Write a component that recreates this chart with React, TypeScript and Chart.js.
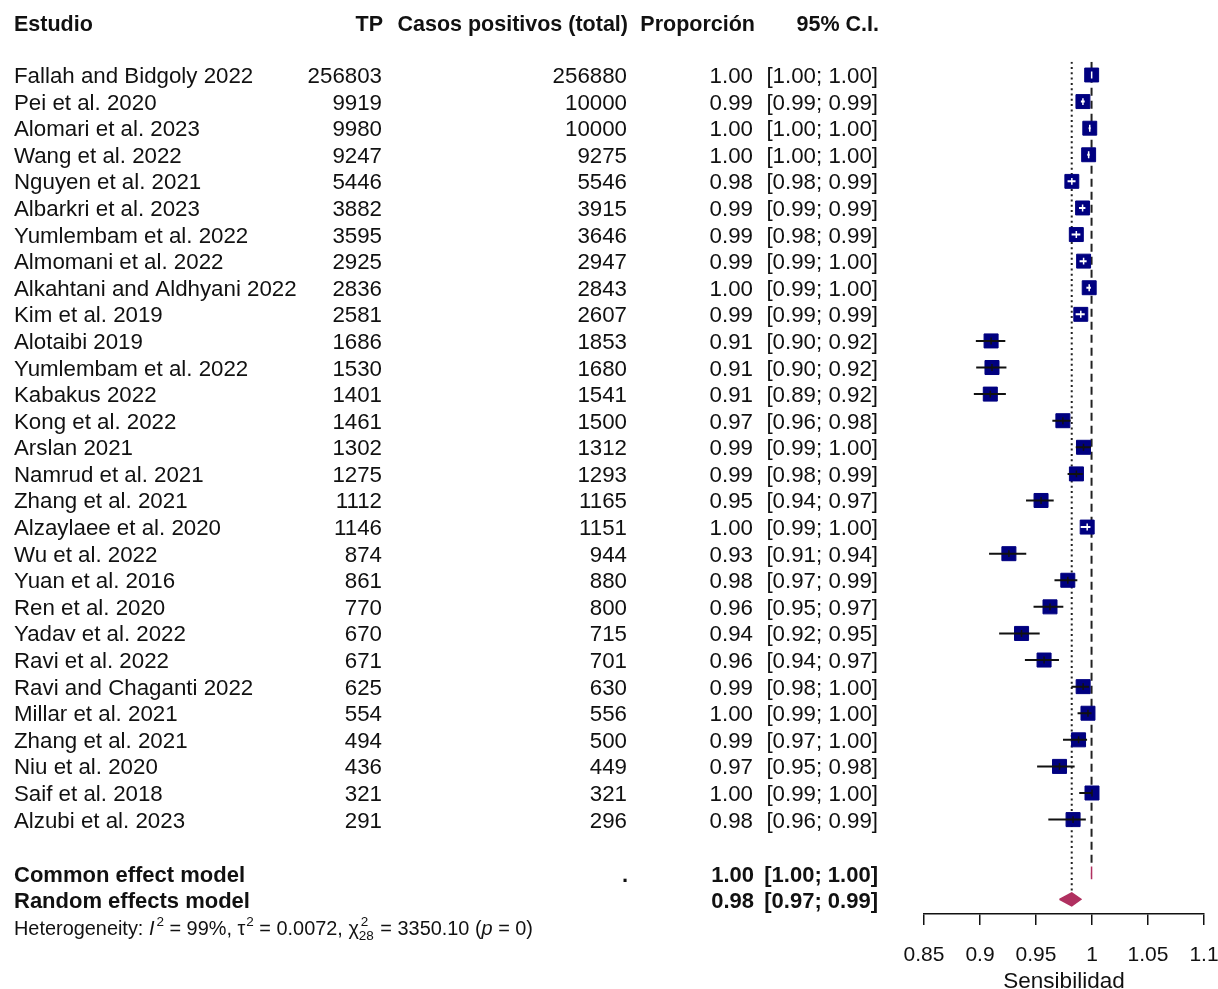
import React, { useEffect, useRef } from "react";
import { Chart, registerables } from "chart.js";

Chart.register(...registerables);

const FONT = "'Liberation Sans', Arial, Helvetica, sans-serif";

const headers = ["Estudio", "TP", "Casos positivos (total)", "Proporción", "95% C.I."];

const studies = [
  "Fallah and Bidgoly 2022", "Pei et al. 2020", "Alomari et al. 2023", "Wang et al. 2022",
  "Nguyen et al. 2021", "Albarkri et al. 2023", "Yumlembam et al. 2022", "Almomani et al. 2022",
  "Alkahtani and Aldhyani 2022", "Kim et al. 2019", "Alotaibi 2019", "Yumlembam et al. 2022",
  "Kabakus 2022", "Kong et al. 2022", "Arslan 2021", "Namrud et al. 2021", "Zhang et al. 2021",
  "Alzaylaee et al. 2020", "Wu et al. 2022", "Yuan et al. 2016", "Ren et al. 2020",
  "Yadav et al. 2022", "Ravi et al. 2022", "Ravi and Chaganti 2022", "Millar et al. 2021",
  "Zhang et al. 2021", "Niu et al. 2020", "Saif et al. 2018", "Alzubi et al. 2023",
];

const tp = [256803, 9919, 9980, 9247, 5446, 3882, 3595, 2925, 2836, 2581, 1686, 1530, 1401, 1461, 1302, 1275, 1112, 1146, 874, 861, 770, 670, 671, 625, 554, 494, 436, 321, 291];
const totals = [256880, 10000, 10000, 9275, 5546, 3915, 3646, 2947, 2843, 2607, 1853, 1680, 1541, 1500, 1312, 1293, 1165, 1151, 944, 880, 800, 715, 701, 630, 556, 500, 449, 321, 296];

const propLabels = ["1.00", "0.99", "1.00", "1.00", "0.98", "0.99", "0.99", "0.99", "1.00", "0.99", "0.91", "0.91", "0.91", "0.97", "0.99", "0.99", "0.95", "1.00", "0.93", "0.98", "0.96", "0.94", "0.96", "0.99", "1.00", "0.99", "0.97", "1.00", "0.98"];
const ciLabels = ["[1.00; 1.00]", "[0.99; 0.99]", "[1.00; 1.00]", "[1.00; 1.00]", "[0.98; 0.99]", "[0.99; 0.99]", "[0.98; 0.99]", "[0.99; 1.00]", "[0.99; 1.00]", "[0.99; 0.99]", "[0.90; 0.92]", "[0.90; 0.92]", "[0.89; 0.92]", "[0.96; 0.98]", "[0.99; 1.00]", "[0.98; 0.99]", "[0.94; 0.97]", "[0.99; 1.00]", "[0.91; 0.94]", "[0.97; 0.99]", "[0.95; 0.97]", "[0.92; 0.95]", "[0.94; 0.97]", "[0.98; 1.00]", "[0.99; 1.00]", "[0.97; 1.00]", "[0.95; 0.98]", "[0.99; 1.00]", "[0.96; 0.99]"];

const proportions = [0.9997, 0.9919, 0.998, 0.997, 0.982, 0.9916, 0.986, 0.9925, 0.9975, 0.99, 0.9099, 0.9107, 0.9092, 0.974, 0.9924, 0.9861, 0.9545, 0.9957, 0.9258, 0.9784, 0.9625, 0.9371, 0.9572, 0.9921, 0.9964, 0.988, 0.971, 1.0, 0.9831];
const ciLower = [0.9996, 0.9901, 0.997, 0.9958, 0.9782, 0.9884, 0.9818, 0.9889, 0.995, 0.9854, 0.8963, 0.8966, 0.8945, 0.9646, 0.9855, 0.9782, 0.9411, 0.9899, 0.9081, 0.9665, 0.9478, 0.9171, 0.9401, 0.9816, 0.9871, 0.9741, 0.951, 0.9886, 0.961];
const ciUpper = [0.9998, 0.9935, 0.9987, 0.9979, 0.9853, 0.9941, 0.9896, 0.9952, 0.999, 0.9935, 0.9226, 0.9236, 0.9231, 0.9809, 0.9992, 0.9917, 0.9658, 0.9986, 0.9413, 0.9869, 0.9744, 0.9533, 0.9705, 0.9974, 0.9996, 0.9956, 0.9845, 1.0, 0.9945];
const weights = [3.4, 3.42, 3.4, 3.41, 3.41, 3.42, 3.43, 3.42, 3.43, 3.42, 3.46, 3.46, 3.46, 3.45, 3.45, 3.46, 3.45, 3.44, 3.46, 3.45, 3.45, 3.47, 3.46, 3.45, 3.44, 3.45, 3.46, 3.44, 3.46];

const commonEffect = { est: 0.9996, lo: 0.9995, hi: 0.9997, label: "1.00", ci: "[1.00; 1.00]", name: "Common effect model" };
const randomEffects = { est: 0.9819, lo: 0.971, hi: 0.9901, label: "0.98", ci: "[0.97; 0.99]", name: "Random effects model" };

const tickValues = [0.85, 0.9, 0.95, 1, 1.05, 1.1];
const tickLabels = ["0.85", "0.9", "0.95", "1", "1.05", "1.1"];
const axisTitle = "Sensibilidad";

const COMMON_ROW = 30;
const RANDOM_ROW = 31;

const BOX = "#000080";
const DIAMOND = "#B03060";
const INK = "#111111";

export default function App() {
  const ref = useRef<HTMLCanvasElement>(null);

  useEffect(() => {
    const canvas = ref.current as HTMLCanvasElement;
    const boxSide = (i: number) => 15 * Math.sqrt(weights[i] / 3.45);
    const getChart = (ctx: any) => (ctx && ctx.chart) || Chart.getChart(canvas);
    const inside = (chart: any, i: number) => {
      const xs = chart.scales.x;
      const cx = xs.getPixelForValue(proportions[i]);
      const h = boxSide(i) / 2;
      return xs.getPixelForValue(ciLower[i]) >= cx - h && xs.getPixelForValue(ciUpper[i]) <= cx + h;
    };
    const rowColor = (ctx: any) => {
      const chart = getChart(ctx);
      if (!chart || !chart.scales || !chart.scales.x) return INK;
      return inside(chart, Math.floor(ctx.p0DataIndex / 3)) ? "#ffffff" : INK;
    };

    const ciData: any[] = [];
    const tickData: any[] = [];
    studies.forEach((_, i) => {
      ciData.push({ x: ciLower[i], y: i }, { x: ciUpper[i], y: i }, { x: NaN, y: NaN });
      tickData.push({ x: proportions[i], y: i - 0.13 }, { x: proportions[i], y: i + 0.13 }, { x: NaN, y: NaN });
    });
    const boxData = proportions.map((p, i) => ({ x: p, y: i }));
    const dh = 0.24;
    const diamond = (s: any, row: number) => [
      { x: s.lo, y: row }, { x: s.est, y: row - dh }, { x: s.hi, y: row }, { x: s.est, y: row + dh }, { x: s.lo, y: row },
    ];

    const textPlugin = {
      id: "forestText",
      afterDraw(chart: any) {
        const c = chart.ctx;
        const ys = chart.scales.y;
        c.save();
        c.fillStyle = INK;
        c.textBaseline = "alphabetic";
        // headers
        c.font = `bold 21.5px ${FONT}`;
        c.textAlign = "left";
        c.fillText(headers[0], 14, 31);
        c.textAlign = "right";
        c.fillText(headers[1], 383, 31);
        c.fillText(headers[2], 628, 31);
        c.fillText(headers[3], 755, 31);
        c.fillText(headers[4], 879, 31);
        // rows
        c.font = `22.3px ${FONT}`;
        studies.forEach((s, i) => {
          const y = ys.getPixelForValue(i) + 8;
          c.textAlign = "left";
          c.fillText(s, 14, y);
          c.textAlign = "right";
          c.fillText(String(tp[i]), 382, y);
          c.fillText(String(totals[i]), 627, y);
          c.fillText(propLabels[i], 753, y);
          c.fillText(ciLabels[i], 878, y);
        });
        // summaries
        c.font = `bold 22px ${FONT}`;
        [[commonEffect, COMMON_ROW, "."], [randomEffects, RANDOM_ROW, ""]].forEach(([s, row, dot]: any) => {
          const y = ys.getPixelForValue(row) + 9;
          c.textAlign = "left";
          c.fillText(s.name, 14, y);
          c.textAlign = "right";
          if (dot) c.fillText(dot, 628, y);
          c.fillText(s.label, 754, y);
          c.fillText(s.ci, 878, y);
        });
        // heterogeneity
        const reg = `19.9px ${FONT}`;
        const ital = `italic 19.9px ${FONT}`;
        const small = `13.5px ${FONT}`;
        const yb = 935;
        let x = 14;
        c.textAlign = "left";
        const put = (t: string, f: string, dy = 0) => {
          c.font = f;
          c.fillText(t, x, yb + dy);
          x += c.measureText(t).width;
        };
        put("Heterogeneity: ", reg);
        put("I", ital);
        x += 2;
        put("2", small, -9);
        put(" = 99%, ", reg);
        put("τ", reg);
        x += 1;
        put("2", small, -9);
        put(" = 0.0072, ", reg);
        put("χ", reg);
        c.font = small;
        const sx = x;
        c.fillText("2", sx + 2, yb - 9);
        c.fillText("28", sx, yb + 5);
        x = sx + c.measureText("28").width + 1;
        put(" = 3350.10 (", reg);
        put("p", ital);
        put(" = 0)", reg);
        c.restore();
      },
    };

    const chart = new Chart(canvas, {
      type: "scatter",
      data: {
        datasets: [
          {
            label: "common line",
            data: [{ x: commonEffect.est, y: -0.5 }, { x: commonEffect.est, y: COMMON_ROW - dh }],
            showLine: true, pointRadius: 0, borderColor: "#222", borderWidth: 2, borderDash: [8, 5], order: 10,
          } as any,
          {
            label: "random line",
            data: [{ x: randomEffects.est, y: -0.5 }, { x: randomEffects.est, y: RANDOM_ROW - dh }],
            showLine: true, pointRadius: 0, borderColor: "#222", borderWidth: 2, borderDash: [2, 3.3], order: 9,
          },
          {
            label: "boxes",
            data: boxData,
            pointStyle: "rect",
            pointRadius: weights.map((_, i) => (boxSide(i) - 1) / Math.SQRT2),
            pointBackgroundColor: BOX,
            pointBorderColor: BOX,
            pointBorderWidth: 1,
            order: 5,
          },
          {
            label: "ci",
            data: ciData,
            showLine: true, pointRadius: 0, borderColor: INK, borderWidth: 2, spanGaps: false,
            segment: { borderColor: rowColor },
            order: 3,
          },
          {
            label: "est",
            data: tickData,
            showLine: true, pointRadius: 0, borderColor: INK, borderWidth: 1.5, spanGaps: false,
            segment: { borderColor: rowColor },
            order: 2,
          },
          {
            label: "common diamond",
            data: diamond(commonEffect, COMMON_ROW),
            showLine: true, pointRadius: 0, borderColor: DIAMOND, backgroundColor: DIAMOND, borderWidth: 1.5,
            fill: "shape", tension: 0, order: 1,
          },
          {
            label: "random diamond",
            data: diamond(randomEffects, RANDOM_ROW),
            showLine: true, pointRadius: 0, borderColor: DIAMOND, backgroundColor: DIAMOND, borderWidth: 1.5,
            fill: "shape", tension: 0, order: 0,
          },
        ] as any,
      },
      options: {
        responsive: false,
        animation: false,
        devicePixelRatio: 1,
        layout: { padding: { left: 924, right: 14, top: 61.7, bottom: 0 } },
        plugins: { legend: { display: false }, tooltip: { enabled: false } },
        scales: {
          x: {
            type: "linear",
            position: "bottom",
            min: 0.85,
            max: 1.1,
            afterBuildTicks: (scale: any) => {
              scale.ticks = tickValues.map((v) => ({ value: v }));
            },
            afterFit: (scale: any) => {
              scale.height = 75;
              scale.paddingLeft = 0;
              scale.paddingRight = 0;
            },
            grid: { display: true, drawOnChartArea: false, drawTicks: true, tickLength: 11, color: INK, lineWidth: 1.5 },
            border: { display: true, color: INK, width: 1.5 },
            ticks: {
              callback: (_v: any, i: number) => tickLabels[i],
              font: { size: 21, family: FONT },
              color: INK,
              padding: 18,
              maxRotation: 0,
              autoSkip: false,
            },
            title: {
              display: true,
              text: axisTitle,
              color: INK,
              font: { size: 22.5, family: FONT, lineHeight: 0.6 },
              padding: { top: 0, bottom: 0 },
            },
          },
          y: {
            type: "linear",
            reverse: true,
            min: -0.5,
            max: 31.55,
            display: false,
          },
        },
      } as any,
      plugins: [textPlugin],
    });
    return () => chart.destroy();
  }, []);

  return (
    <div style={{ position: "absolute", left: 0, top: 0, width: 1218, height: 989, background: "#fff" }}>
      <canvas ref={ref} width={1218} height={989} style={{ display: "block" }} />
    </div>
  );
}
